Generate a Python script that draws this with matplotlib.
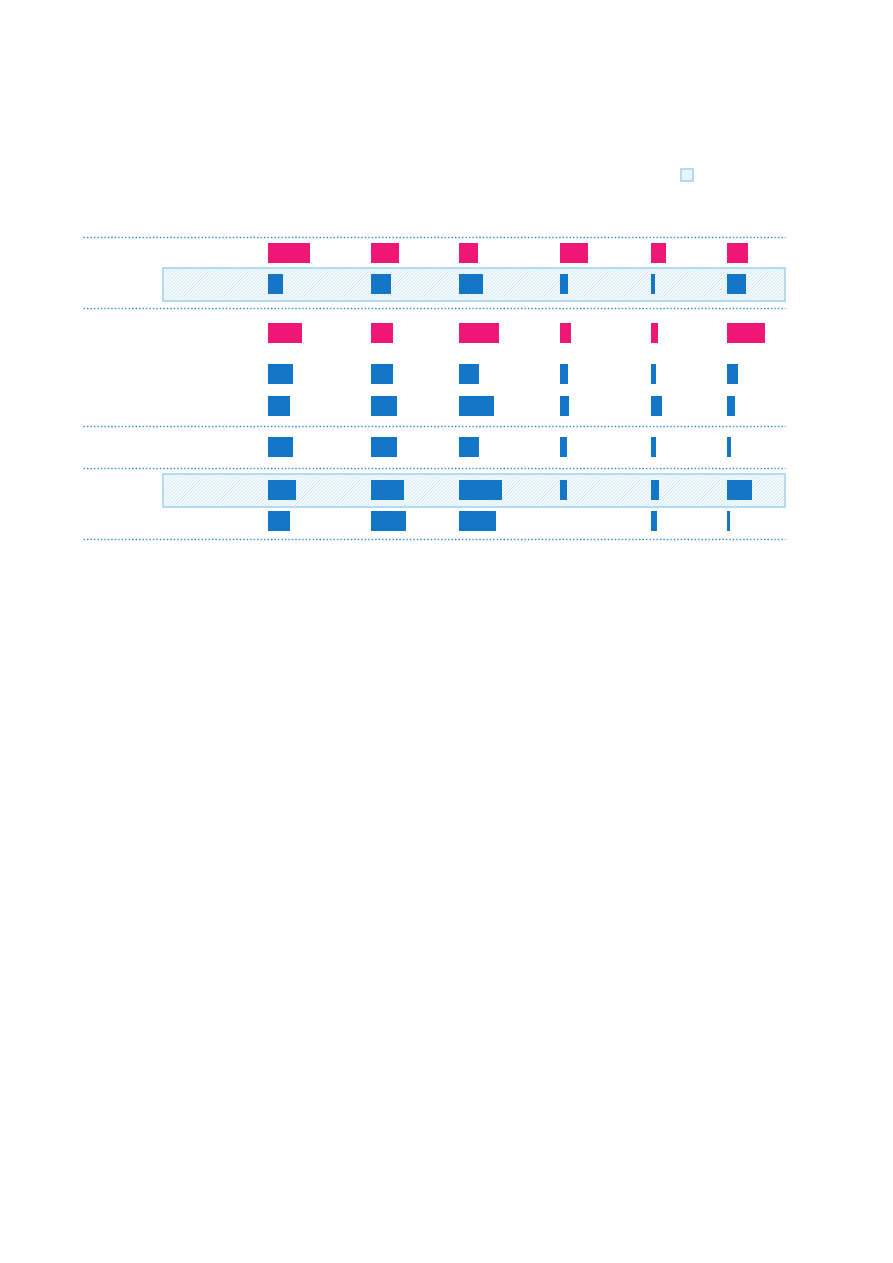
import matplotlib
matplotlib.use("Agg")
import matplotlib.pyplot as plt
from matplotlib.patches import Rectangle

# Data: bar lengths per row (8 rows) for 6 columns
series_kind = ["pink", "blue", "pink", "blue", "blue", "blue", "blue", "blue"]
col1 = [42, 15, 34, 25, 22, 25, 28, 22]
col2 = [28, 20, 22, 22, 26, 26, 33, 35]
col3 = [19, 24, 40, 20, 35, 20, 43, 37]
col4 = [28, 8, 11, 8, 9, 7, 7, 0]
col5 = [15, 4, 7, 5, 11, 5, 8, 6]
col6 = [21, 19, 38, 11, 8, 4, 25, 3]
highlighted_rows = [1, 6]

columns = [col1, col2, col3, col4, col5, col6]

# Layout (pixels)
W, H = 893, 1263
col_left = [268, 371, 459, 560, 651, 727]
row_y = [253, 284, 333, 374, 406, 447, 490, 521]
sep_y = [237, 308, 426, 468, 539]
colors = {"pink": "#ef1776", "blue": "#1476c6"}

fig = plt.figure(figsize=(W / 100, H / 100), dpi=100)
ax = fig.add_axes([0, 0, 1, 1])
ax.set_xlim(0, W)
ax.set_ylim(H, 0)
ax.axis("off")

plt.rcParams["hatch.linewidth"] = 0.8
HATCH = "//////////"

# highlighted rows
for r in highlighted_rows:
    y = row_y[r]
    ax.add_patch(Rectangle((163, y - 16), 622, 33, facecolor="white",
                           edgecolor="#d2eafa", hatch=HATCH, linewidth=0, zorder=1))
    ax.add_patch(Rectangle((163, y - 16), 622, 33, fill=False,
                           edgecolor="#a8d6f0", linewidth=1.2, zorder=2))

# legend swatch
ax.add_patch(Rectangle((681, 169), 12, 12, facecolor="white",
                       edgecolor="#d2eafa", hatch=HATCH, linewidth=0, zorder=1))
ax.add_patch(Rectangle((681, 169), 12, 12, fill=False,
                       edgecolor="#a8d6f0", linewidth=1.2, zorder=2))

# separators
ax.hlines(sep_y, 83, 785, colors="#2a8ed8", linestyles=(0, (1, 1.5)), linewidth=1.0, zorder=2)

# bars
for c, vals in enumerate(columns):
    for r, v in enumerate(vals):
        if v <= 0:
            continue
        ax.barh(row_y[r], v, left=col_left[c], height=20,
                color=colors[series_kind[r]], linewidth=0, zorder=3)

fig.savefig("out.png", dpi=100)
